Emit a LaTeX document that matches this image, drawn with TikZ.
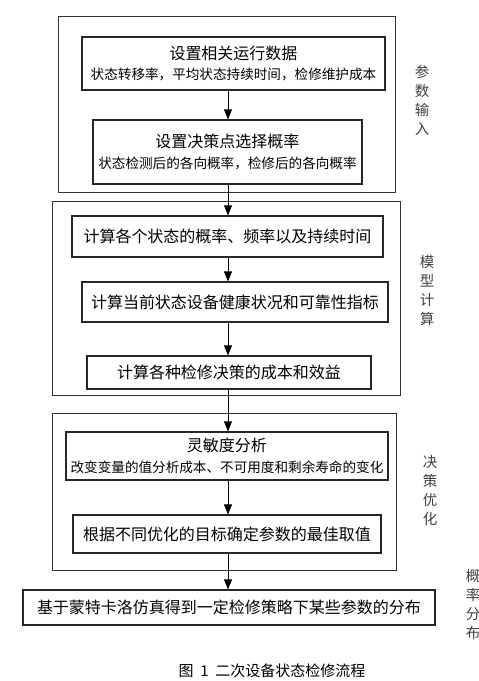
\documentclass[tikz,border=0pt]{standalone}
\usepackage{fontspec}
\usepackage{tikz}
\usetikzlibrary{arrows.meta,positioning,calc}
\setmainfont{Noto Sans CJK SC}
\newcommand{\Hd}{\fontsize{16}{20}\selectfont}
\newcommand{\Sb}{\fontsize{13.6}{20.5}\selectfont}

\begin{document}
\begin{tikzpicture}[x=1pt, y=-1pt,
    stepbox/.style={draw=black!85, line width=1.2pt, inner sep=0pt, align=center, font=\Hd},
    twoline/.style={stepbox, font=\Sb},
    groupbox/.style={draw=black!80, line width=0.9pt},
    sidelabel/.style={font=\fontsize{14.5}{19}\selectfont, align=center, text=black!75},
    flow/.style={-{Triangle[length=10pt, width=8pt]}, line width=0.8pt, black}]
  \useasboundingbox (0,0) rectangle (479,681);
  % stages
  \draw[groupbox] (58,16) rectangle (395,192);
  \draw[groupbox] (52,201) rectangle (400,395);
  \draw[groupbox] (52,413) rectangle (396,570);
  % parameter input
  \node[twoline, minimum width=303pt, minimum height=53pt] (b1) at (233.5,63.5)
    {{\Hd 设置相关运行数据}\\状态转移率，平均状态持续时间，检修维护成本};
  \node[twoline, minimum width=269pt, minimum height=64pt] (b2) at (227.5,152)
    {{\Hd 设置决策点选择概率}\\状态检测后的各向概率，检修后的各向概率};
  % model calculation
  \node[stepbox, minimum width=311pt, minimum height=41pt] (c1) at (227.5,236.5)
    {计算各个状态的概率、频率以及持续时间};
  \node[stepbox, minimum width=306pt, minimum height=40pt] (c2) at (235,302)
    {计算当前状态设备健康状况和可靠性指标};
  \node[stepbox, minimum width=284pt, minimum height=33pt] (c3) at (229,372.5)
    {计算各种检修决策的成本和效益};
  % decision optimisation
  \node[twoline, minimum width=322pt, minimum height=48pt] (d1) at (227,456)
    {{\Hd 灵敏度分析}\\改变变量的值分析成本、不可用度和剩余寿命的变化};
  \node[stepbox, minimum width=308pt, minimum height=38pt] (d2) at (227,534)
    {根据不同优化的目标确定参数的最佳取值};
  % probability distribution
  \node[stepbox, minimum width=412pt, minimum height=35pt] (e1) at (229,607.5)
    {基于蒙特卡洛仿真得到一定检修策略下某些参数的分布};
  % side labels
  \node[sidelabel] (l1) at (422,100) {参\\数\\输\\入};
  \node[sidelabel] (l2) at (427,290) {模\\型\\计\\算};
  \node[sidelabel] (l3) at (430,490) {决\\策\\优\\化};
  \node[sidelabel] (l4) at (473,604) {概\\率\\分\\布};
  % caption
  \node[font=\fontsize{15}{18}\selectfont] (cap) at (272,671) {图\ \ 1\ \ 二次设备状态检修流程};
  % arrows
  \coordinate (ax) at (228,0);
  \draw[flow] (b1.south -| ax) -- (b2.north -| ax);
  \draw[flow] (b2.south -| ax) -- (c1.north -| ax);
  \draw[flow] (c1.south -| ax) -- (c2.north -| ax);
  \draw[flow] (c2.south -| ax) -- (c3.north -| ax);
  \draw[flow] (c3.south -| ax) -- (d1.north -| ax);
  \draw[flow] (d1.south -| ax) -- (d2.north -| ax);
  \draw[flow] (d2.south -| ax) -- (e1.north -| ax);
\end{tikzpicture}
\end{document}
